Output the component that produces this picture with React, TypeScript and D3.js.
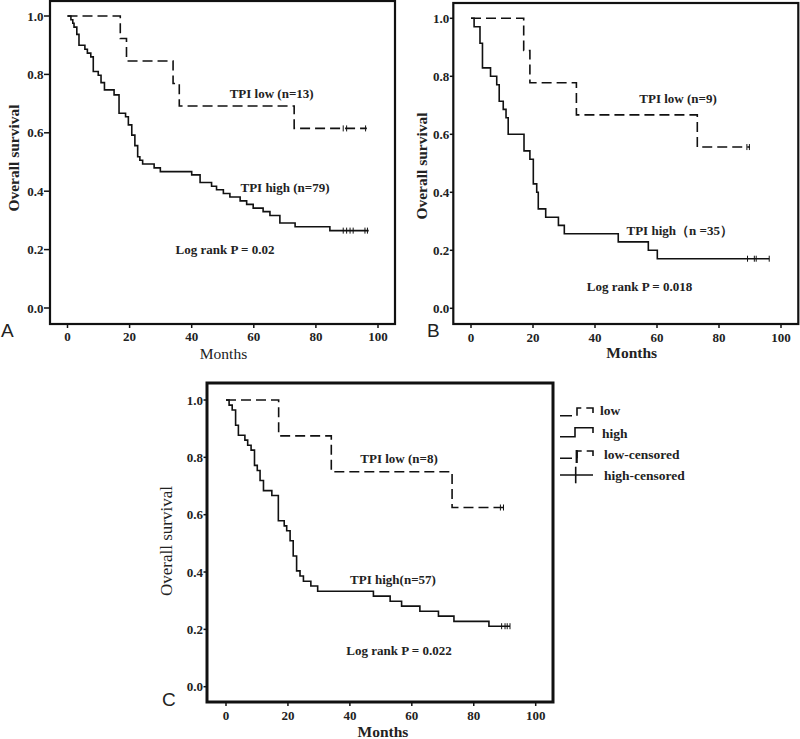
import React from 'react';
import * as d3 from 'd3';

// ---------- shared ticks ----------
const monthTicks = [0, 20, 40, 60, 80, 100];
const survivalTicks = [0, 0.2, 0.4, 0.6, 0.8, 1.0];

// ---------- Panel A ----------
const aLowTimes = [0, 17, 19, 34, 36, 73];
const aLowSurv = [1, 0.923, 0.846, 0.769, 0.692, 0.615];
const aLowCensored = [88.8, 89.9, 96];
const aLowEnd = 96.4;

const aHighTimes = [0, 1.1, 1.7, 2.1, 3, 3.7, 5.6, 6.4, 7.5, 8.3, 9.9, 10.8, 11.9, 15, 16.6, 18.7, 19.6, 20.7, 21.7, 22.6, 23.3, 24.2, 27.9, 29.9, 40, 42.7, 46.4, 48, 50.2, 52.3, 55.6, 57.7, 59.8, 63, 65.2, 68.4, 73.3, 84.5];
const aHighSurv = [1, 0.987, 0.975, 0.962, 0.937, 0.9, 0.886, 0.873, 0.86, 0.81, 0.797, 0.772, 0.747, 0.73, 0.667, 0.655, 0.627, 0.592, 0.556, 0.518, 0.506, 0.493, 0.48, 0.467, 0.456, 0.43, 0.417, 0.405, 0.392, 0.38, 0.367, 0.355, 0.342, 0.33, 0.317, 0.291, 0.278, 0.265];
const aHighCensored = [88.8, 89.9, 91, 92, 95.8, 96.6];
const aHighEnd = 97;

// ---------- Panel B ----------
const bLowTimes = [0, 17, 19, 34, 73];
const bLowSurv = [1, 0.889, 0.778, 0.667, 0.556];
const bLowCensored = [89, 89.8];
const bLowEnd = 90;

const bHighTimes = [0, 1, 2.9, 3.7, 6.3, 8.3, 9.1, 10.4, 11.3, 12, 17.1, 19, 20.1, 21.2, 21.7, 24.1, 28.2, 30.1, 47.5, 57.2, 60.1];
const bHighSurv = [1, 0.971, 0.914, 0.829, 0.8, 0.771, 0.714, 0.686, 0.657, 0.6, 0.543, 0.514, 0.429, 0.4, 0.343, 0.314, 0.286, 0.257, 0.229, 0.2, 0.171];
const bHighCensored = [89.2, 91.4, 92, 96.2];
const bHighEnd = 96.2;

// ---------- Panel C ----------
const cLowTimes = [0, 17, 34, 73];
const cLowSurv = [1, 0.875, 0.75, 0.625];
const cLowCensored = [88.6, 89.6];
const cLowEnd = 90;

const cHighTimes = [0, 1, 2, 3.1, 4, 6.1, 7, 8.1, 9.2, 10.1, 11, 12.1, 14.8, 16.9, 18.8, 19.6, 20.7, 21.7, 22.8, 23.9, 25, 27.4, 29.6, 47.6, 53, 56.7, 62.6, 68.6, 73.6, 84.9];
const cHighSurv = [1, 0.982, 0.965, 0.912, 0.877, 0.86, 0.842, 0.825, 0.772, 0.754, 0.719, 0.684, 0.667, 0.579, 0.561, 0.544, 0.509, 0.456, 0.404, 0.386, 0.368, 0.351, 0.333, 0.316, 0.298, 0.281, 0.263, 0.246, 0.228, 0.211];
const cHighCensored = [89, 90.1, 90.8, 91.7];
const cHighEnd = 91.7;

// ---------- texts ----------
const panelLetters = ['A', 'B', 'C'];
const lowLabels = ['TPI low (n=13)', 'TPI low (n=9)', 'TPI low (n=8)'];
const highLabels = ['TPI high (n=79)', 'TPI high\uFF08n =35\uFF09', 'TPI high(n=57)'];
const pLabels = ['Log rank P = 0.02', 'Log rank P = 0.018', 'Log rank P = 0.022'];
const yTitle = 'Overall survival';
const xTitle = 'Months';
const legendLabels = ['low', 'high', 'low-censored', 'high-censored'];

const SERIF = '"Liberation Serif", "Times New Roman", serif';
const SANS = '"Liberation Sans", Arial, sans-serif';

type Series = { times: number[]; surv: number[]; censored: number[]; end: number };

type PanelCfg = {
  frame: { x: number; y: number; w: number; h: number; sw: number };
  xRange: [number, number];
  yRange: [number, number];
  tickLen: number;
  low: Series;
  high: Series;
  letter: string;
  letterPos: [number, number];
  yTitlePos: [number, number];
  yTitleBold: boolean;
  yTitleSize: number;
  xTitlePos: [number, number];
  xTitleBold: boolean;
  xTickBaseline: number;
  lowLabel: string; lowPos: [number, number];
  highLabel: string; highPos: [number, number];
  pLabel: string; pPos: [number, number];
};

function survAt(s: Series, t: number) {
  let v = s.surv[0];
  for (let i = 0; i < s.times.length; i++) if (s.times[i] <= t) v = s.surv[i];
  return v;
}

function Curve({ s, x, y, dashed }: { s: Series; x: any; y: any; dashed: boolean }) {
  const pts: [number, number][] = s.times.map((t, i) => [t, s.surv[i]]);
  pts.push([s.end, s.surv[s.surv.length - 1]]);
  const line = d3.line<[number, number]>().x(d => x(d[0])).y(d => y(d[1])).curve(d3.curveStepAfter);
  return (
    <g>
      <path d={line(pts) || ''} fill="none" stroke="#111" strokeWidth={1.6}
        strokeDasharray={dashed ? '10,5' : undefined} />
      {s.censored.map((c, i) => (
        <line key={i} x1={x(c)} x2={x(c)} y1={y(survAt(s, c)) - 3} y2={y(survAt(s, c)) + 3}
          stroke="#111" strokeWidth={1} />
      ))}
    </g>
  );
}

function Panel({ p }: { p: PanelCfg }) {
  const x = d3.scaleLinear().domain([0, 100]).range(p.xRange);
  const y = d3.scaleLinear().domain([0, 1]).range(p.yRange);
  const f = p.frame;
  const bottom = f.y + f.h;
  const fmt = d3.format('.1f');
  return (
    <g>
      <rect x={f.x} y={f.y} width={f.w} height={f.h} fill="none" stroke="#111" strokeWidth={f.sw} />
      {survivalTicks.map(v => (
        <g key={v}>
          <line x1={f.x - p.tickLen} x2={f.x} y1={y(v)} y2={y(v)} stroke="#111" strokeWidth={1.5} />
          <text x={f.x - p.tickLen - 0.5} y={y(v) + 4.5} textAnchor="end" fontFamily={SERIF}
            fontWeight="bold" fontSize={13} fill="#222">{fmt(v)}</text>
        </g>
      ))}
      {monthTicks.map(v => (
        <g key={v}>
          <line x1={x(v)} x2={x(v)} y1={bottom} y2={bottom + 4} stroke="#111" strokeWidth={1.5} />
          <text x={x(v)} y={p.xTickBaseline} textAnchor="middle" fontFamily={SERIF}
            fontWeight="bold" fontSize={13} fill="#222">{v}</text>
        </g>
      ))}
      <Curve s={p.low} x={x} y={y} dashed={true} />
      <Curve s={p.high} x={x} y={y} dashed={false} />
      <text x={p.lowPos[0]} y={p.lowPos[1]} textAnchor="middle" fontFamily={SERIF} fontWeight="bold" fontSize={13} fill="#222">{p.lowLabel}</text>
      <text x={p.highPos[0]} y={p.highPos[1]} textAnchor="middle" fontFamily={SERIF} fontWeight="bold" fontSize={13} fill="#222">{p.highLabel}</text>
      <text x={p.pPos[0]} y={p.pPos[1]} textAnchor="middle" fontFamily={SERIF} fontWeight="bold" fontSize={13} fill="#222">{p.pLabel}</text>
      <text transform={`translate(${p.yTitlePos[0]},${p.yTitlePos[1]}) rotate(-90)`} textAnchor="middle"
        dominantBaseline="central" fontFamily={SERIF} fontWeight={p.yTitleBold ? 'bold' : 'normal'}
        fontSize={p.yTitleSize} fill="#222">{yTitle}</text>
      <text x={p.xTitlePos[0]} y={p.xTitlePos[1]} textAnchor="middle" fontFamily={SERIF}
        fontWeight={p.xTitleBold ? 'bold' : 'normal'} fontSize={15.5} fill="#222">{xTitle}</text>
      <text x={p.letterPos[0]} y={p.letterPos[1]} fontFamily={SANS} fontSize={19} fill="#222">{p.letter}</text>
    </g>
  );
}

const panels: PanelCfg[] = [
  {
    frame: { x: 50, y: 1, w: 345, h: 323, sw: 2.2 },
    xRange: [67.5, 378], yRange: [308, 16], tickLen: 6,
    low: { times: aLowTimes, surv: aLowSurv, censored: aLowCensored, end: aLowEnd },
    high: { times: aHighTimes, surv: aHighSurv, censored: aHighCensored, end: aHighEnd },
    letter: panelLetters[0], letterPos: [1, 337],
    yTitlePos: [13.5, 158], yTitleBold: true, yTitleSize: 15.5,
    xTitlePos: [223.5, 358.5], xTitleBold: false, xTickBaseline: 341,
    lowLabel: lowLabels[0], lowPos: [271.7, 97.5],
    highLabel: highLabels[0], highPos: [285, 192],
    pLabel: pLabels[0], pPos: [225, 254],
  },
  {
    frame: { x: 453.3, y: 3, w: 345, h: 321, sw: 2.2 },
    xRange: [471, 781], yRange: [308.3, 18.3], tickLen: 3.5,
    low: { times: bLowTimes, surv: bLowSurv, censored: bLowCensored, end: bLowEnd },
    high: { times: bHighTimes, surv: bHighSurv, censored: bHighCensored, end: bHighEnd },
    letter: panelLetters[1], letterPos: [427, 337],
    yTitlePos: [421.7, 166], yTitleBold: true, yTitleSize: 15.5,
    xTitlePos: [631.7, 358], xTitleBold: true, xTickBaseline: 342,
    lowLabel: lowLabels[1], lowPos: [678, 103],
    highLabel: highLabels[1], highPos: [679.7, 235],
    pLabel: pLabels[1], pPos: [639.5, 291],
  },
  {
    frame: { x: 207, y: 383, w: 346, h: 319, sw: 3 },
    xRange: [226, 535.7], yRange: [686.7, 400], tickLen: 3.5,
    low: { times: cLowTimes, surv: cLowSurv, censored: cLowCensored, end: cLowEnd },
    high: { times: cHighTimes, surv: cHighSurv, censored: cHighCensored, end: cHighEnd },
    letter: panelLetters[2], letterPos: [162, 706],
    yTitlePos: [166, 541], yTitleBold: false, yTitleSize: 17,
    xTitlePos: [383, 737], xTitleBold: true, xTickBaseline: 720,
    lowLabel: lowLabels[2], lowPos: [399, 463],
    highLabel: highLabels[2], highPos: [393, 584],
    pLabel: pLabels[2], pPos: [399, 655],
  },
];

function Legend() {
  const tx = [600, 602, 604, 604];
  const cy = [410, 433, 454, 475];
  return (
    <g fill="none" stroke="#111" strokeWidth={1.6}>
      {/* low */}
      <path d={`M560,${cy[0] + 5.7}H577V${cy[0] - 2}H593V${cy[0] + 3}`} strokeDasharray="12,5" />
      {/* high */}
      <path d={`M560,${cy[1] + 3.7}H575V${cy[1] - 5.3}H593V${cy[1]}`} />
      {/* low-censored */}
      <path d={`M560,${cy[2] + 4.3}H577V${cy[2] - 3}H593V${cy[2] + 2}`} strokeDasharray="12,5" />
      <line x1={576.7} x2={576.7} y1={cy[2] - 4} y2={cy[2] + 9} strokeWidth={2.2} />
      {/* high-censored */}
      <line x1={560} x2={593} y1={cy[3]} y2={cy[3]} />
      <line x1={575.7} x2={575.7} y1={cy[3] - 8.3} y2={cy[3] + 8.3} />
      {legendLabels.map((l, i) => (
        <text key={l} x={tx[i]} y={cy[i] + 4.5} stroke="none" fill="#222" fontFamily={SERIF}
          fontWeight="bold" fontSize={13.5}>{l}</text>
      ))}
    </g>
  );
}

export default function App() {
  return (
    <svg width={800} height={739} viewBox="0 0 800 739"
      style={{ position: 'absolute', left: 0, top: 0, background: '#fff' }}>
      <rect x={0} y={0} width={800} height={739} fill="#fff" />
      {panels.map((p, i) => <Panel key={i} p={p} />)}
      <Legend />
    </svg>
  );
}
